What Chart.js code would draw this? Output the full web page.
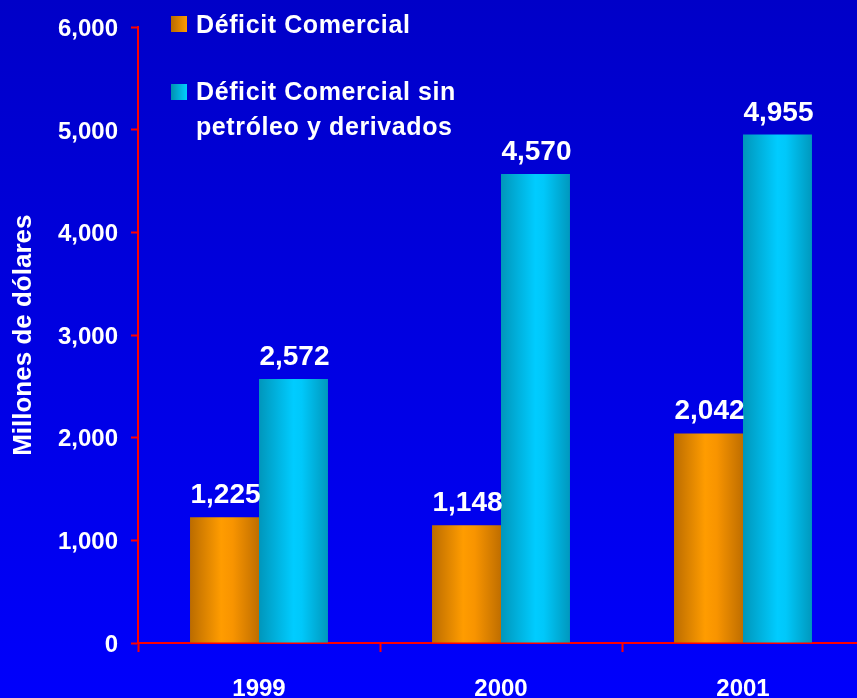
<!DOCTYPE html>
<html lang="es">
<head>
  <meta charset="UTF-8">
  <title>Déficit Comercial</title>
  <script src="https://cdn.jsdelivr.net/npm/chart.js"></script>
  <style>
    html, body {
      margin: 0;
      padding: 0;
      width: 857px;
      height: 698px;
      overflow: hidden;
    }
    body {
      background: linear-gradient(to bottom, #0000c8, #0000fc);
      font-family: "Liberation Sans", Arial, sans-serif;
      position: relative;
    }
    #wrap {
      position: absolute;
      left: 0;
      top: 0;
      width: 864px;
      height: 698px;
    }
    .leyenda {
      position: absolute;
      color: #fff;
      font-weight: bold;
      font-size: 25px;
      letter-spacing: 0.6px;
      line-height: 35px;
      white-space: nowrap;
    }
    .cuadro {
      position: absolute;
      width: 16px;
      height: 16px;
    }
  </style>
</head>
<body>
  <div id="wrap"><canvas id="grafico"></canvas></div>

  <div class="cuadro" style="left:171px; top:16px; background:linear-gradient(to right,#b86a00,#ff9c00);"></div>
  <div class="leyenda" style="left:196px; top:7px;">Déficit Comercial</div>
  <div class="cuadro" style="left:171px; top:84px; background:linear-gradient(to right,#0090b0,#00d0ff);"></div>
  <div class="leyenda" style="left:196px; top:74px;">Déficit Comercial sin<br>petróleo y derivados</div>

  <script>
    // datos
    const anios = ['1999', '2000', '2001'];
    const deficit = [1225, 1148, 2042];
    const deficitSinPetroleo = [2572, 4570, 4955];
    const ticksY = [0, 1000, 2000, 3000, 4000, 5000, 6000];

    const fmt = v => v.toLocaleString('en-US');
    const CAT_PCT = 0.57;
    const FAMILIA = '"Liberation Sans", Arial, sans-serif';

    // degradado horizontal de cada barra
    function degradado(ctx, paradas) {
      const chart = ctx.chart;
      const x = chart.scales.x;
      if (!chart.chartArea || !x) return paradas[1][1];
      const centro = x.getPixelForValue(ctx.dataIndex);
      const w = (x.width / anios.length) * CAT_PCT / 2;
      const izq = ctx.datasetIndex === 0 ? centro - w : centro;
      const g = chart.ctx.createLinearGradient(izq, 0, izq + w, 0);
      paradas.forEach(p => g.addColorStop(p[0], p[1]));
      return g;
    }

    const naranja = [[0, '#bb6c00'], [0.45, '#ff9c00'], [0.62, '#f89400'], [1, '#bf6e00']];
    const cian = [[0, '#0096bb'], [0.5, '#00ccff'], [0.62, '#00c8fa'], [1, '#0098bd']];

    const etiquetas = {
      id: 'etiquetas',
      afterDatasetsDraw(c) {
        const ctx = c.ctx;
        ctx.save();
        ctx.font = 'bold 28px ' + FAMILIA;
        ctx.fillStyle = '#ffffff';
        ctx.textAlign = 'center';
        ctx.textBaseline = 'alphabetic';
        c.data.datasets.forEach((ds, i) => {
          c.getDatasetMeta(i).data.forEach((el, j) => {
            ctx.fillText(fmt(ds.data[j]), el.x + 1, el.y - 14);
          });
        });
        ctx.restore();
      }
    };

    const ctx = document.getElementById('grafico').getContext('2d');
    new Chart(ctx, {
      type: 'bar',
      data: {
        labels: anios,
        datasets: [{
          label: 'Déficit Comercial',
          data: deficit,
          backgroundColor: c => degradado(c, naranja)
        }, {
          label: 'Déficit Comercial sin petróleo y derivados',
          data: deficitSinPetroleo,
          backgroundColor: c => degradado(c, cian)
        }]
      },
      plugins: [etiquetas],
      options: {
        responsive: true,
        maintainAspectRatio: false,
        animation: false,
        layout: { padding: { top: 27, left: 0, right: 0, bottom: 0 } },
        datasets: { bar: { categoryPercentage: CAT_PCT, barPercentage: 1 } },
        plugins: { legend: { display: false }, tooltip: { enabled: false } },
        scales: {
          x: {
            afterFit: s => { s.height = 55; },
            grid: { drawOnChartArea: false, color: 'transparent', tickColor: '#ff0000', tickLength: 9, tickWidth: 2 },
            border: { color: '#ff0000', width: 2 },
            ticks: {
              color: '#ffffff',
              padding: 23,
              font: { family: FAMILIA, size: 24, weight: 'bold' }
            }
          },
          y: {
            min: 0,
            max: 6000,
            afterFit: s => { s.width = 138; },
            afterBuildTicks: s => { s.ticks = ticksY.map(v => ({ value: v })); },
            grid: { drawOnChartArea: false, color: 'transparent', tickColor: '#ff0000', tickLength: 7, tickWidth: 2 },
            border: { color: '#ff0000', width: 2 },
            ticks: {
              color: '#ffffff',
              padding: 13,
              labelOffset: 2,
              callback: v => fmt(v),
              font: { family: FAMILIA, size: 24, weight: 'bold' }
            },
            title: {
              display: true,
              text: 'Millones de dólares',
              color: '#ffffff',
              padding: { top: 8, bottom: 0 },
              font: { family: FAMILIA, size: 26, weight: 'bold' }
            }
          }
        }
      }
    });
  </script>
</body>
</html>
